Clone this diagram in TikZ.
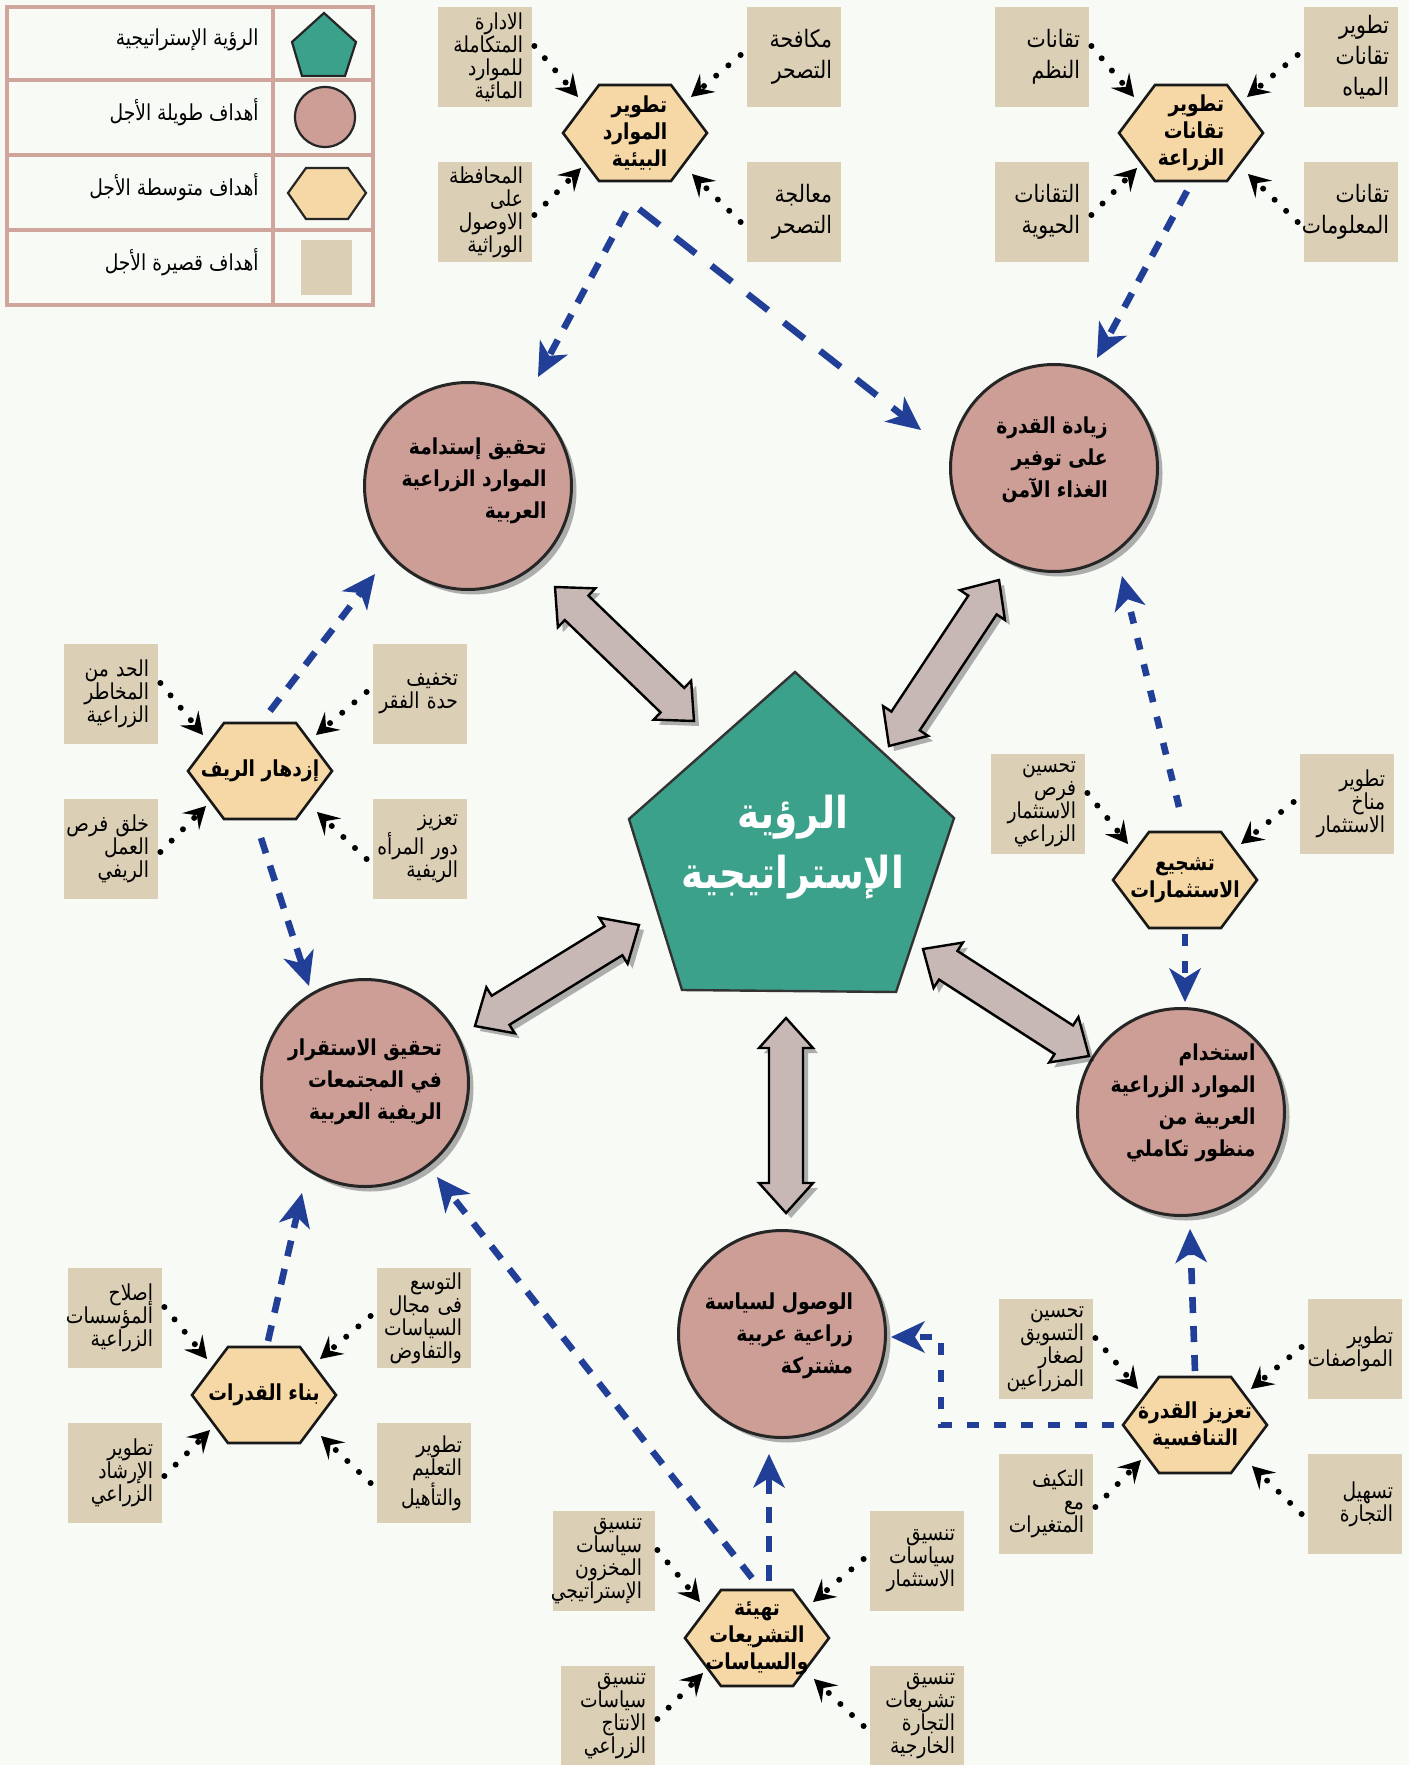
\documentclass[tikz,border=0pt]{standalone}
\usepackage{fontspec}
\usetikzlibrary{arrows.meta,calc,shadows}
\TeXXeTstate=1
\newfontfamily\ar[Script=Arabic,FakeStretch=0.85]{DejaVu Sans}
\newcommand\AR[1]{\beginR #1\endR}
\newcommand\BL[1]{\leavevmode\hfill\llap{\beginR #1\endR}}
\definecolor{bgc}{RGB}{248,250,246}
\definecolor{boxc}{RGB}{219,207,181}
\definecolor{hexc}{RGB}{246,215,166}
\definecolor{circc}{RGB}{204,158,150}
\definecolor{pentc}{RGB}{59,161,138}
\definecolor{arrc}{RGB}{199,184,182}
\definecolor{bluec}{RGB}{33,63,150}
\definecolor{legc}{RGB}{207,165,156}
\newcommand\hexat[5][center]{%
  \draw[hexline, shift={(#3,#4)}] (-72,0) -- (-36,-48) -- (36,-48) -- (72,0) -- (36,48) -- (-36,48) -- cycle;
  \node[htext, align=#1] (#2) at (#3,#4) {#5};}
\newcommand\bigdbl[2]{%
  \coordinate (dA) at ($(#1)!15pt!(#2)$);
  \coordinate (dB) at ($(#2)!15pt!(#1)$);
  \def\dblpath{(#1) -- ($(dA)!13.5pt!90:(#2)$) -- ($(dA)!8.5pt!90:(#2)$) -- ($(dB)!8.5pt!-90:(#1)$) -- ($(dB)!13.5pt!-90:(#1)$) -- (#2) -- ($(dB)!13.5pt!90:(#1)$) -- ($(dB)!8.5pt!90:(#1)$) -- ($(dA)!8.5pt!-90:(#2)$) -- ($(dA)!13.5pt!-90:(#2)$) -- cycle}%
  \fill[black,opacity=.3,transform canvas={shift={(2.5pt,-2.5pt)}}] \dblpath;
  \draw[bigarr] \dblpath;}
\begin{document}
\begin{tikzpicture}[x=0.5pt,y=-0.5pt,
  sbox/.style={rectangle, fill=boxc, minimum width=47pt, minimum height=50pt, text width=38pt, align=right, inner sep=0pt, font=\ar\fontsize{11}{11.5}\selectfont},
  sboxL/.style={sbox, font=\ar\fontsize{12}{15.5}\selectfont},
  hexline/.style={draw=black!90, line width=1.3pt, fill=hexc},
  htext/.style={inner sep=0pt, font=\ar\bfseries\fontsize{11}{13.5}\selectfont},
  circ/.style={circle, draw=black!85, line width=1.5pt, fill=circc, minimum size=103.5pt, inner sep=0pt, drop shadow={shadow xshift=2.5pt, shadow yshift=-2.5pt, opacity=0.3, fill=black}},
  ctext/.style={align=right, inner sep=0pt, font=\ar\bfseries\fontsize{11}{16}\selectfont},
  dotarr/.style={line width=3pt, line cap=round, dash pattern=on 0pt off 8pt, -{Stealth[length=11pt,width=12pt,inset=4.5pt,line width=0pt]}},
  bluearr/.style={draw=bluec, line width=3.3pt, dash pattern=on 8pt off 6.5pt, -{Stealth[length=17pt,width=16pt,inset=5pt,line width=0pt]}},
  longdash/.style={dash pattern=on 13pt off 10pt},
  shortdash/.style={dash pattern=on 6pt off 7.5pt},
  bigarr/.style={draw=black, line width=1.2pt, fill=arrc, line join=miter},
  legtxt/.style={anchor=east, inner sep=0pt, font=\ar\fontsize{11}{12}\selectfont},
]
\fill[bgc] (0,0) rectangle (1409,1765);
\useasboundingbox (0,0) rectangle (1409,1765);

% ---------- legend ----------
\draw[legc, line width=2pt] (7,7) rectangle (373,305);
\foreach \yy in {80,155,230} \draw[legc, line width=2pt] (7,\yy) -- (373,\yy);
\draw[legc, line width=2pt] (273,7) -- (273,305);
\draw[fill=pentc, draw=black!85, line width=1.1pt] (324,13) -- (356,42) -- (345,76) -- (302,76) -- (292,42) -- cycle;
\draw[fill=circc, draw=black!85, line width=1.1pt] (325,117) circle [radius=30];
\draw[fill=hexc, draw=black!85, line width=1.1pt] (288,193) -- (306,168) -- (348,168) -- (366,193) -- (348,219) -- (306,219) -- cycle;
\fill[boxc] (301,240) rectangle (352,295);
\node[legtxt] (l1) at (259,40) {\AR{الرؤية الإستراتيجية}};
\node[legtxt] (l2) at (259,112) {\AR{أهداف طويلة الأجل}};
\node[legtxt] (l3) at (259,187) {\AR{أهداف متوسطة الأجل}};
\node[legtxt] (l4) at (259,262) {\AR{أهداف قصيرة الأجل}};

% ---------- long term goals (circles) ----------
\node[circ] (c1) at (468,486) {};
\node[circ] (c2) at (1054,468) {};
\node[circ] (c3) at (365,1083) {};
\node[circ] (c4) at (1181,1112) {};
\node[circ] (c5) at (782,1334) {};
\node[ctext] (t1) at ($(c1)+(6,-5)$) {\AR{تحقيق إستدامة}\\\AR{الموارد الزراعية}\\\AR{العربية}};
\node[ctext] (t2) at ($(c2)+(-2,-8)$) {\AR{زيادة القدرة}\\\AR{على توفير}\\\AR{الغذاء الآمن}};
\node[ctext] (t3) at ($(c3)+(0,-1)$) {\AR{تحقيق الاستقرار}\\\AR{في المجتمعات}\\\AR{الريفية العربية}};
\node[ctext] (t4) at ($(c4)+(2,-9)$) {\AR{استخدام}\\\AR{الموارد الزراعية}\\\AR{العربية من}\\\AR{منظور تكاملي}};
\node[ctext] (t5) at ($(c5)+(-3,2)$) {\AR{الوصول لسياسة}\\\AR{زراعية عربية}\\\AR{مشتركة}};

% ---------- vision pentagon ----------
\draw[fill=pentc, draw=black!80, line width=1.2pt, shift={(793,847)}] (2,-175) -- (161,-29) -- (103,145) -- (-111,143) -- (-164,-28) -- cycle;
\node[align=center, text=white, inner sep=0pt, font=\ar\bfseries\fontsize{22}{30}\selectfont] (pent) at (793,847) {\AR{الرؤية}\\\AR{الإستراتيجية}};

% ---------- big double arrows ----------
\coordinate (d1a) at ($(c1)+(87,101)$);   \coordinate (d1b) at ($(pent)+(-99,-126)$);
\coordinate (d2a) at ($(pent)+(96,-101)$); \coordinate (d2b) at ($(c2)+(-55,112)$);
\coordinate (d3a) at ($(pent)+(-154,78)$); \coordinate (d3b) at ($(c3)+(110,-57)$);
\coordinate (d4a) at ($(pent)+(130,102)$); \coordinate (d4b) at ($(c4)+(-92,-56)$);
\coordinate (d5a) at ($(pent)+(-7,171)$);  \coordinate (d5b) at ($(c5)+(4,-121)$);
\bigdbl{d1a}{d1b}
\bigdbl{d2a}{d2b}
\bigdbl{d3a}{d3b}
\bigdbl{d4a}{d4b}
\bigdbl{d5a}{d5b}

% ---------- medium term goals (hexagons) ----------
\hexat[right]{h1}{635}{133}{\AR{تطوير}\\\AR{الموارد}\\\AR{البيئية}}
\hexat[right]{h2}{1191}{133}{\AR{تطوير}\\\AR{تقانات}\\\AR{الزراعة}}
\hexat{h3}{260}{771}{\AR{إزدهار الريف}}
\hexat{h4}{1185}{880}{\AR{تشجيع}\\\AR{الاستثمارات}}
\hexat{h5}{264}{1395}{\AR{بناء القدرات}}
\hexat{h6}{1195}{1425}{\AR{تعزيز القدرة}\\\AR{التنافسية}}
\hexat{h7}{757}{1638}{\AR{تهيئة}\\\AR{التشريعات}\\\AR{والسياسات}}

% ---------- short term goals (boxes) ----------
% group 1
\node[sbox]  (b1a) at (485,57)   {\BL{الادارة}\\\BL{المتكاملة}\\\BL{للموارد}\\\BL{المائية}};
\node[sboxL] (b1b) at (794,57)   {\BL{مكافحة}\\\BL{التصحر}};
\node[sbox]  (b1c) at (485,212)  {\BL{المحافظة}\\\BL{على}\\\BL{الاوصول}\\\BL{الوراثية}};
\node[sboxL] (b1d) at (794,212)  {\BL{معالجة}\\\BL{التصحر}};
% group 2
\node[sboxL] (b2a) at (1042,57)  {\BL{تقانات}\\\BL{النظم}};
\node[sboxL] (b2b) at (1351,57)  {\BL{تطوير}\\\BL{تقانات}\\\BL{المياه}};
\node[sboxL] (b2c) at (1042,212) {\BL{التقانات}\\\BL{الحيوية}};
\node[sboxL] (b2d) at (1351,212) {\BL{تقانات}\\\BL{المعلومات}};
% group 3
\node[sbox]  (b3a) at (111,694)  {\BL{الحد من}\\\BL{المخاطر}\\\BL{الزراعية}};
\node[sbox]  (b3b) at (420,694)  {\BL{تخفيف}\\\BL{حدة الفقر}};
\node[sbox]  (b3c) at (111,849)  {\BL{خلق فرص}\\\BL{العمل}\\\BL{الريفي}};
\node[sbox]  (b3d) at (420,849)  {\BL{تعزيز}\\\BL{دور المرأه}\\\BL{الريفية}};
% group 4
\node[sbox]  (b4a) at (1038,804) {\BL{تحسين}\\\BL{فرص}\\\BL{الاستثمار}\\\BL{الزراعي}};
\node[sbox]  (b4b) at (1347,804) {\BL{تطوير}\\\BL{مناخ}\\\BL{الاستثمار}};
% group 5
\node[sbox]  (b5a) at (115,1318) {\BL{إصلاح}\\\BL{المؤسسات}\\\BL{الزراعية}};
\node[sbox]  (b5b) at (424,1318) {\BL{التوسع}\\\BL{فى مجال}\\\BL{السياسات}\\\BL{والتفاوض}};
\node[sbox]  (b5c) at (115,1473) {\BL{تطوير}\\\BL{الإرشاد}\\\BL{الزراعي}};
\node[sbox]  (b5d) at (424,1473) {\BL{تطوير}\\\BL{التعليم}\\\BL{والتأهيل}};
% group 6
\node[sbox]  (b6a) at (1046,1349) {\BL{تحسين}\\\BL{التسويق}\\\BL{لصغار}\\\BL{المزراعين}};
\node[sbox]  (b6b) at (1355,1349) {\BL{تطوير}\\\BL{المواصفات}};
\node[sbox]  (b6c) at (1046,1504) {\BL{التكيف}\\\BL{مع}\\\BL{المتغيرات}};
\node[sbox]  (b6d) at (1355,1504) {\BL{تسهيل}\\\BL{التجارة}};
% group 7
\node[sbox, minimum width=51pt] (b7a) at (604,1561) {\BL{تنسيق}\\\BL{سياسات}\\\BL{المخزون}\\\BL{الإستراتيجي}};
\node[sbox]  (b7b) at (917,1561) {\BL{تنسيق}\\\BL{سياسات}\\\BL{الاستثمار}};
\node[sbox]  (b7c) at (608,1716) {\BL{تنسيق}\\\BL{سياسات}\\\BL{الانتاج}\\\BL{الزراعي}};
\node[sbox]  (b7d) at (917,1716) {\BL{تنسيق}\\\BL{تشريعات}\\\BL{التجارة}\\\BL{الخارجية}};

% ---------- dotted connectors ----------
\foreach \H/\A/\B/\C/\D in {h1/b1a/b1b/b1c/b1d, h2/b2a/b2b/b2c/b2d, h5/b5a/b5b/b5c/b5d, h6/b6a/b6b/b6c/b6d, h3/b3a/b3b/b3c/b3d, h7/b7a/b7b/b7c/b7d}{
  \draw[dotarr] ($(\A.east)+(2,-11)$) -- ($(\H)+(-57,-36)$);
  \draw[dotarr] ($(\B.west)+(-6,-2)$) -- ($(\H)+(56,-36)$);
  \draw[dotarr] ($(\C.east)+(2,3)$) -- ($(\H)+(-54,35)$);
  \draw[dotarr] ($(\D.west)+(-6,10)$) -- ($(\H)+(57,41)$);
}
\draw[dotarr] ($(b4a.east)+(2,-11)$) -- ($(h4)+(-57,-36)$);
\draw[dotarr] ($(b4b.west)+(-6,-2)$) -- ($(h4)+(56,-36)$);

% ---------- blue dashed connectors ----------
\draw[bluearr] ($(h1)+(-9,79)$) -- ($(c1)+(70,-109)$);
\draw[bluearr, longdash] ($(h1)+(4,76)$) -- ($(c2)+(-133,-38)$);
\draw[bluearr] ($(h2)+(-4,58)$) -- ($(c2)+(43,-110)$);
\draw[bluearr, shortdash] ($(h4)+(-6,-73)$) -- ($(c2)+(68,108)$);
\draw[bluearr, shortdash] ($(h4)+(0,54)$) -- ($(c4)+(4,-110)$);
\draw[bluearr] ($(h6)+(0,-54)$) -- ($(c4)+(9,117)$);
\coordinate (g1) at ($(h6)+(-254,0)$);
\coordinate (g2) at ($(c5)+(159,3)$);
\draw[bluearr, shortdash] ($(h6)+(-81,0)$) -- (g1) -- (g2) -- ($(c5)+(109,3)$);
\draw[bluearr] ($(h7)+(12,-57)$) -- ($(c5)+(-13,120)$);
\draw[bluearr] ($(h7)+(-5,-60)$) -- ($(c3)+(72,94)$);
\draw[bluearr] ($(h5)+(4,-54)$) -- ($(c3)+(-63,110)$);
\draw[bluearr] ($(h3)+(10,-60)$) -- ($(c1)+(-93,88)$);
\draw[bluearr] ($(h3)+(1,67)$) -- ($(c3)+(-56,-97)$);
\end{tikzpicture}
\end{document}
